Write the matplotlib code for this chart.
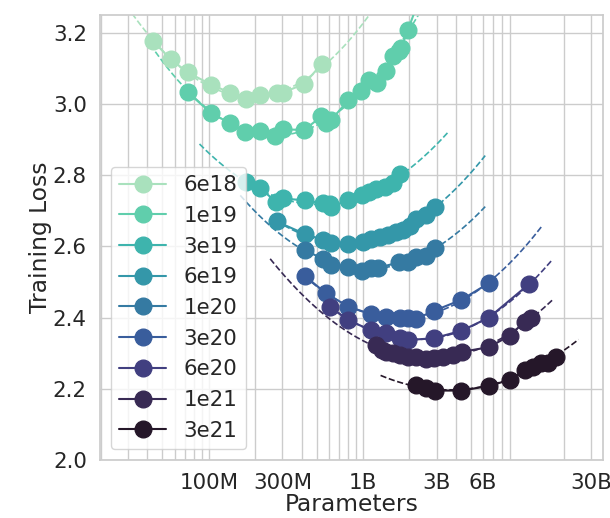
import matplotlib
matplotlib.use("Agg")
import matplotlib.pyplot as plt
import numpy as np
import seaborn as sns
from matplotlib.ticker import NullFormatter

# IsoFLOP data: parameters vs training loss per FLOP budget
budgets = ["6e18", "1e19", "3e19", "6e19", "1e20", "3e20", "6e20", "1e21", "3e21"]

params_6e18 = [43.2e6, 56.5e6, 72.8e6, 104e6, 137e6, 173e6, 214e6, 275e6, 301e6, 415e6, 540e6]
loss_6e18 = [3.178, 3.126, 3.089, 3.054, 3.032, 3.014, 3.026, 3.032, 3.032, 3.056, 3.113]

params_1e19 = [72.8e6, 104e6, 137e6, 172e6, 214e6, 270e6, 301e6, 415e6, 537e6, 579e6, 624e6,
               800e6, 977e6, 1.10e9, 1.23e9, 1.40e9, 1.56e9, 1.71e9, 1.77e9, 1.96e9, 2.34e9]
loss_1e19 = [3.033, 2.974, 2.946, 2.921, 2.923, 2.911, 2.929, 2.927, 2.965, 2.946, 2.956,
             3.010, 3.037, 3.068, 3.060, 3.093, 3.134, 3.148, 3.157, 3.209, 3.300]

params_3e19 = [175e6, 214e6, 272e6, 303e6, 419e6, 551e6, 608e6, 624e6, 800e6, 986e6,
               1.10e9, 1.22e9, 1.38e9, 1.56e9, 1.75e9]
loss_3e19 = [2.782, 2.764, 2.726, 2.735, 2.729, 2.721, 2.719, 2.712, 2.729, 2.745,
             2.754, 2.761, 2.768, 2.777, 2.804]

params_6e19 = [275e6, 419e6, 553e6, 624e6, 800e6, 1.00e9, 1.13e9, 1.28e9, 1.45e9, 1.64e9,
               1.82e9, 2.01e9, 2.22e9, 2.58e9, 2.92e9]
loss_6e19 = [2.670, 2.635, 2.618, 2.609, 2.607, 2.611, 2.620, 2.626, 2.632, 2.640,
             2.646, 2.658, 2.677, 2.689, 2.710]

params_1e20 = [419e6, 553e6, 624e6, 800e6, 991e6, 1.13e9, 1.25e9, 1.71e9, 1.96e9, 2.22e9, 2.58e9, 2.92e9]
loss_1e20 = [2.590, 2.564, 2.548, 2.542, 2.532, 2.539, 2.540, 2.555, 2.557, 2.571, 2.573, 2.595]

params_3e20 = [419e6, 573e6, 800e6, 1.12e9, 1.40e9, 1.73e9, 1.96e9, 2.20e9, 2.88e9, 4.35e9, 6.56e9]
loss_3e20 = [2.517, 2.469, 2.431, 2.410, 2.403, 2.398, 2.398, 2.396, 2.419, 2.450, 2.497]

params_6e20 = [615e6, 800e6, 1.12e9, 1.40e9, 1.75e9, 1.96e9, 2.88e9, 4.35e9, 6.56e9, 12.0e9]
loss_6e20 = [2.429, 2.393, 2.365, 2.356, 2.342, 2.337, 2.342, 2.363, 2.400, 2.495]

params_1e21 = [1.22e9, 1.32e9, 1.42e9, 1.56e9, 1.73e9, 1.96e9, 2.22e9, 2.55e9, 2.87e9, 3.30e9,
               3.83e9, 4.41e9, 6.56e9, 8.93e9, 11.2e9, 12.3e9]
loss_1e21 = [2.323, 2.309, 2.304, 2.300, 2.295, 2.290, 2.289, 2.283, 2.286, 2.290,
             2.295, 2.304, 2.317, 2.349, 2.389, 2.398]

params_3e21 = [2.22e9, 2.58e9, 2.92e9, 4.35e9, 6.56e9, 8.93e9, 11.2e9, 12.6e9, 14.3e9, 15.8e9, 17.9e9]
loss_3e21 = [2.211, 2.201, 2.195, 2.195, 2.208, 2.225, 2.253, 2.261, 2.272, 2.272, 2.290]

all_params = [params_6e18, params_1e19, params_3e19, params_6e19, params_1e20,
              params_3e20, params_6e20, params_1e21, params_3e21]
all_loss = [loss_6e18, loss_1e19, loss_3e19, loss_6e19, loss_1e20,
            loss_3e20, loss_6e20, loss_1e21, loss_3e21]

# range over which each parabola fit is drawn
fit_lo = [2.0e7, 4.5e7, 8.7e7, 2.75e8, 1.6e8, 4.2e8, 6.2e8, 2.5e8, 1.3e9]
fit_hi = [1.6e9, 3.2e9, 3.6e9, 6.2e9, 6.2e9, 1.45e10, 1.7e10, 1.7e10, 2.5e10]

tick_vals = [1e8, 3e8, 1e9, 3e9, 6e9, 3e10]
tick_labels = ["100M", "300M", "1B", "3B", "6B", "30B"]

sns.set_theme(style="whitegrid", font_scale=1.4)
colors = sns.color_palette("mako_r", len(budgets))

fig = plt.figure(figsize=(6.10, 5.18), dpi=100)
ax = fig.add_axes([0.164, 0.112, 0.8245, 0.859])

for i, name in enumerate(budgets):
    n = np.array(all_params[i])
    l = np.array(all_loss[i])
    # quadratic fit of loss against log10(params)
    coef = np.polyfit(np.log10(n), l, 2)
    xs = np.linspace(np.log10(fit_lo[i]), np.log10(fit_hi[i]), 200)
    ax.plot(10 ** xs, np.polyval(coef, xs), "--", color=colors[i], lw=1.2, zorder=2)
    ax.plot(n, l, "-o", color=colors[i], lw=1.5, ms=12, label=name, zorder=3)

ax.set_xscale("log")
ax.set_xlim(1.97e7, 3.6e10)
ax.set_ylim(2.0, 3.25)
ax.set_xticks(tick_vals)
ax.set_xticklabels(tick_labels)
ax.xaxis.set_minor_formatter(NullFormatter())
ax.grid(True, which="minor", axis="x", color=".8", lw=1)
ax.set_yticks([2.0, 2.2, 2.4, 2.6, 2.8, 3.0, 3.2])

ax.set_xlabel("Parameters", labelpad=0)
ax.set_ylabel("Training Loss", labelpad=0.5)

ax.legend(loc="lower left", handlelength=2.2, borderaxespad=0.5)

plt.savefig("out.png", dpi=100)
